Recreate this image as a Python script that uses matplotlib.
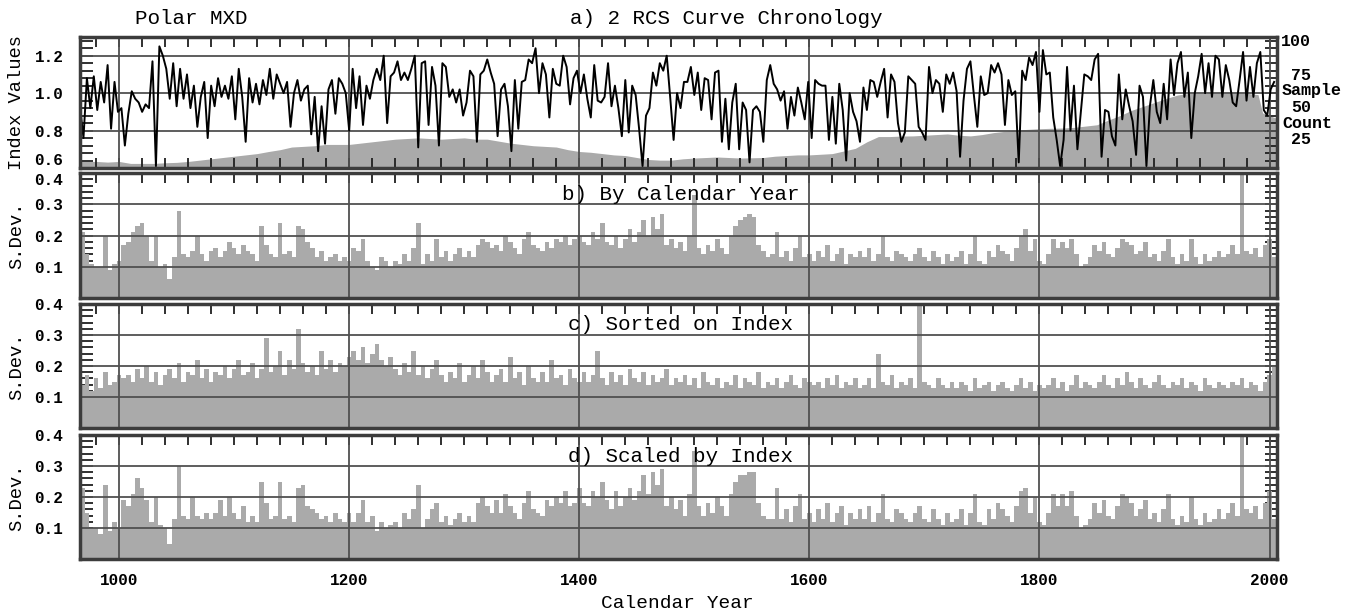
import numpy as np
import matplotlib.pyplot as plt
from matplotlib.ticker import MultipleLocator

plt.rcParams['font.family'] = ['Liberation Mono', 'DejaVu Sans Mono']

# RCS chronology, one value every 3 years starting 966
chron_start, chron_step = 966, 3
chron = [
    0.93, 0.76, 1.08, 0.92, 1.09, 0.91, 1.06, 0.95, 1.15, 0.81,
    1.06, 0.90, 0.92, 0.72, 0.89, 1.01, 0.97, 0.95, 0.90, 0.94,
    0.92, 1.17, 0.61, 1.25, 1.20, 1.13, 0.97, 1.16, 0.93, 1.13,
    0.97, 1.10, 0.92, 1.04, 0.82, 0.98, 1.06, 0.76, 1.04, 0.93,
    1.08, 0.98, 1.04, 0.97, 1.09, 0.86, 1.13, 0.98, 0.74, 1.08,
    0.95, 1.05, 0.94, 1.07, 0.99, 1.13, 0.97, 1.10, 1.05, 1.00,
    1.06, 0.82, 1.00, 1.07, 0.96, 1.02, 1.04, 0.78, 0.98, 0.69,
    0.93, 0.73, 1.02, 1.07, 0.89, 1.08, 1.05, 1.00, 0.80, 1.13,
    0.92, 1.09, 0.83, 1.04, 0.97, 1.07, 1.13, 1.07, 1.20, 0.84,
    1.09, 1.11, 1.17, 1.07, 1.11, 1.07, 1.13, 1.20, 0.71, 1.16,
    1.17, 0.83, 1.14, 1.04, 0.72, 1.16, 1.14, 0.98, 1.02, 0.95,
    1.02, 0.88, 0.95, 1.12, 1.09, 0.74, 1.10, 1.12, 1.18, 1.11,
    1.05, 0.77, 1.02, 1.05, 0.93, 0.69, 1.07, 0.81, 1.06, 1.07,
    1.18, 1.16, 1.24, 1.00, 1.16, 1.10, 0.87, 1.13, 1.05, 1.04,
    1.20, 1.14, 0.94, 1.08, 1.12, 1.00, 1.10, 0.97, 0.87, 1.15,
    0.96, 0.95, 0.98, 1.16, 0.93, 1.04, 0.92, 0.77, 1.07, 0.79,
    1.04, 0.99, 0.81, 0.61, 0.88, 0.92, 1.11, 1.04, 1.16, 1.12,
    1.20, 0.98, 0.75, 1.00, 0.92, 1.06, 1.06, 1.14, 0.99, 1.11,
    0.91, 1.08, 1.07, 0.86, 1.11, 1.12, 0.74, 0.97, 0.70, 0.95,
    1.05, 0.70, 0.95, 0.91, 0.63, 0.91, 0.93, 0.90, 0.74, 1.07,
    1.15, 1.05, 1.02, 0.96, 1.01, 0.81, 0.98, 0.88, 1.03, 0.95,
    0.86, 1.06, 0.76, 1.07, 1.05, 1.04, 1.04, 0.75, 0.98, 0.73,
    1.05, 0.91, 0.64, 1.00, 0.90, 0.85, 0.74, 1.03, 0.91, 1.07,
    1.06, 0.98, 1.06, 1.13, 0.87, 1.10, 1.06, 0.84, 0.74, 0.79,
    1.09, 1.07, 1.05, 0.82, 0.79, 0.75, 1.14, 1.00, 1.07, 1.05,
    0.90, 1.10, 1.05, 1.11, 1.01, 0.66, 0.96, 1.13, 1.17, 0.99,
    0.82, 1.09, 0.99, 1.00, 1.15, 1.11, 1.16, 1.10, 0.83, 1.07,
    0.99, 1.01, 0.63, 1.12, 1.07, 1.19, 1.15, 1.22, 0.90, 1.23,
    1.10, 1.11, 0.87, 0.75, 0.61, 0.75, 1.14, 0.80, 1.04, 0.70,
    0.90, 1.10, 1.09, 1.07, 1.18, 1.21, 0.66, 0.91, 0.90, 0.77,
    0.72, 1.10, 0.86, 1.02, 0.93, 0.85, 0.67, 1.04, 0.98, 0.61,
    0.93, 1.07, 0.90, 0.84, 1.05, 0.86, 1.18, 0.99, 1.16, 1.22,
    0.98, 1.11, 0.76, 1.00, 1.09, 1.21, 1.00, 1.16, 0.98, 1.20,
    1.18, 0.98, 1.15, 1.07, 0.95, 0.93, 1.07, 1.22, 0.96, 1.14,
    0.98, 1.16, 1.22, 0.91, 0.88, 1.02, 1.06,
]

# sample count (number of series)
count_years = [966, 980, 990, 1000, 1010, 1020, 1030, 1040, 1050, 1060,
               1070, 1080, 1090, 1100, 1110, 1120, 1130, 1140, 1150, 1160,
               1170, 1180, 1190, 1200, 1210, 1220, 1230, 1240, 1250, 1260,
               1270, 1280, 1290, 1300, 1310, 1320, 1330, 1340, 1350, 1360,
               1370, 1380, 1390, 1400, 1410, 1420, 1430, 1440, 1450, 1460,
               1470, 1480, 1490, 1500, 1510, 1520, 1530, 1540, 1550, 1560,
               1570, 1580, 1590, 1600, 1610, 1620, 1630, 1640, 1650, 1660,
               1670, 1680, 1690, 1700, 1710, 1720, 1730, 1740, 1750, 1760,
               1770, 1780, 1790, 1800, 1810, 1820, 1830, 1840, 1850, 1860,
               1870, 1880, 1890, 1900, 1910, 1920, 1930, 1940, 1950, 1960,
               1970, 1980, 1990, 1994, 2000, 2006]
count = [5, 5, 4.5, 5, 3.5, 3.5, 3.5, 4, 4.3, 5,
         6, 7, 8, 9, 10, 11, 12.6, 14, 16, 16.5,
         17, 18, 18, 18, 19, 20, 21, 22, 22.5, 23,
         22.5, 22, 22.5, 23, 22, 22, 20.5, 19, 18, 17,
         16.5, 16, 14, 12.6, 12, 11, 10, 9.5, 8, 6.5,
         6, 6, 7, 7.6, 8, 8.4, 8, 7.6, 7.8, 8,
         9, 9.5, 10, 10, 10.5, 11, 13, 15, 20, 24,
         24, 24.4, 24.5, 25, 25.5, 26, 25, 24.5, 25.5, 27,
         28, 29, 29.5, 30, 30.3, 30.5, 31, 32, 33, 36.6,
         40, 44, 47, 50, 53, 55.7, 57, 57, 57, 57,
         57, 57, 56, 42, 40, 38]

# standard deviations, one bar per 4 years starting 966
sd_start, sd_step = 966, 4
sd_year = [
    0.21, 0.14, 0.11, 0.10, 0.10, 0.20, 0.09, 0.11, 0.12, 0.17,
    0.18, 0.21, 0.23, 0.24, 0.20, 0.12, 0.20, 0.10, 0.11, 0.06,
    0.13, 0.28, 0.14, 0.13, 0.15, 0.20, 0.14, 0.12, 0.15, 0.16,
    0.13, 0.15, 0.18, 0.16, 0.14, 0.17, 0.15, 0.14, 0.12, 0.23,
    0.17, 0.14, 0.13, 0.24, 0.14, 0.15, 0.13, 0.23, 0.22, 0.18,
    0.16, 0.13, 0.15, 0.12, 0.13, 0.14, 0.12, 0.13, 0.12, 0.16,
    0.15, 0.19, 0.12, 0.10, 0.09, 0.13, 0.12, 0.10, 0.12, 0.11,
    0.14, 0.12, 0.16, 0.24, 0.11, 0.14, 0.12, 0.19, 0.13, 0.15,
    0.12, 0.14, 0.16, 0.13, 0.15, 0.13, 0.17, 0.19, 0.18, 0.16,
    0.17, 0.15, 0.20, 0.18, 0.16, 0.14, 0.19, 0.21, 0.17, 0.16,
    0.15, 0.18, 0.16, 0.19, 0.18, 0.20, 0.17, 0.19, 0.20, 0.18,
    0.17, 0.21, 0.19, 0.24, 0.18, 0.17, 0.20, 0.16, 0.19, 0.22,
    0.18, 0.21, 0.25, 0.20, 0.26, 0.22, 0.27, 0.17, 0.19, 0.16,
    0.18, 0.15, 0.20, 0.33, 0.16, 0.14, 0.17, 0.15, 0.19, 0.16,
    0.14, 0.20, 0.23, 0.25, 0.26, 0.27, 0.26, 0.17, 0.15, 0.13,
    0.14, 0.21, 0.13, 0.15, 0.12, 0.16, 0.20, 0.13, 0.14, 0.12,
    0.15, 0.13, 0.17, 0.12, 0.14, 0.16, 0.11, 0.14, 0.13, 0.15,
    0.13, 0.16, 0.12, 0.14, 0.20, 0.13, 0.12, 0.15, 0.14, 0.13,
    0.12, 0.14, 0.16, 0.13, 0.12, 0.15, 0.13, 0.11, 0.14, 0.12,
    0.13, 0.15, 0.11, 0.14, 0.20, 0.12, 0.11, 0.15, 0.13, 0.17,
    0.15, 0.14, 0.12, 0.16, 0.20, 0.22, 0.15, 0.19, 0.12, 0.11,
    0.14, 0.19, 0.16, 0.18, 0.16, 0.19, 0.14, 0.10, 0.11, 0.13,
    0.17, 0.15, 0.18, 0.14, 0.13, 0.16, 0.19, 0.18, 0.17, 0.14,
    0.15, 0.18, 0.13, 0.14, 0.12, 0.15, 0.19, 0.13, 0.11, 0.14,
    0.12, 0.19, 0.13, 0.11, 0.14, 0.12, 0.13, 0.15, 0.13, 0.14,
    0.17, 0.14, 0.40, 0.15, 0.14, 0.16, 0.13, 0.17, 0.19, 0.13,
]
sd_sorted = [
    0.14, 0.17, 0.12, 0.16, 0.13, 0.18, 0.14, 0.15, 0.17, 0.16,
    0.17, 0.15, 0.19, 0.16, 0.20, 0.15, 0.18, 0.14, 0.17, 0.19,
    0.16, 0.21, 0.15, 0.18, 0.17, 0.22, 0.16, 0.19, 0.15, 0.18,
    0.17, 0.20, 0.16, 0.19, 0.22, 0.17, 0.18, 0.21, 0.16, 0.19,
    0.29, 0.18, 0.20, 0.25, 0.17, 0.22, 0.19, 0.32, 0.21, 0.18,
    0.20, 0.17, 0.25, 0.19, 0.22, 0.18, 0.21, 0.20, 0.23, 0.25,
    0.22, 0.26, 0.21, 0.24, 0.27, 0.22, 0.20, 0.23, 0.19, 0.17,
    0.21, 0.18, 0.25, 0.17, 0.20, 0.16, 0.19, 0.22, 0.17, 0.15,
    0.18, 0.16, 0.21, 0.15, 0.17, 0.20, 0.16, 0.22, 0.18, 0.15,
    0.17, 0.19, 0.15, 0.23, 0.16, 0.18, 0.14, 0.20, 0.16, 0.15,
    0.18, 0.15, 0.22, 0.16, 0.17, 0.14, 0.19, 0.16, 0.15, 0.18,
    0.15, 0.17, 0.25, 0.16, 0.14, 0.18, 0.15, 0.17, 0.14, 0.19,
    0.16, 0.15, 0.18, 0.14, 0.17, 0.15, 0.16, 0.19, 0.14, 0.16,
    0.15, 0.17, 0.14, 0.16, 0.13, 0.18, 0.15, 0.14, 0.16, 0.13,
    0.15, 0.14, 0.17, 0.13, 0.16, 0.15, 0.14, 0.18, 0.13, 0.15,
    0.14, 0.16, 0.13, 0.15, 0.17, 0.14, 0.13, 0.16, 0.15, 0.14,
    0.15, 0.13, 0.16, 0.14, 0.17, 0.13, 0.15, 0.14, 0.16, 0.13,
    0.14, 0.16, 0.13, 0.24, 0.15, 0.14, 0.17, 0.13, 0.15, 0.14,
    0.16, 0.13, 0.40, 0.15, 0.14, 0.13, 0.16, 0.14, 0.13, 0.15,
    0.13, 0.15, 0.14, 0.12, 0.16, 0.13, 0.14, 0.15, 0.12, 0.14,
    0.15, 0.13, 0.12, 0.14, 0.16, 0.13, 0.15, 0.12, 0.14, 0.13,
    0.14, 0.16, 0.13, 0.15, 0.12, 0.14, 0.17, 0.13, 0.15, 0.14,
    0.13, 0.15, 0.17, 0.14, 0.13, 0.16, 0.14, 0.18, 0.15, 0.13,
    0.16, 0.14, 0.13, 0.15, 0.17, 0.14, 0.13, 0.15, 0.14, 0.16,
    0.13, 0.15, 0.14, 0.12, 0.16, 0.14, 0.13, 0.15, 0.14, 0.13,
    0.15, 0.14, 0.16, 0.13, 0.15, 0.14, 0.12, 0.15, 0.17, 0.20,
]
sd_scaled = [
    0.23, 0.15, 0.10, 0.10, 0.08, 0.24, 0.09, 0.12, 0.10, 0.19,
    0.17, 0.21, 0.26, 0.23, 0.19, 0.12, 0.20, 0.11, 0.10, 0.05,
    0.13, 0.30, 0.14, 0.13, 0.20, 0.14, 0.13, 0.15, 0.13, 0.15,
    0.19, 0.14, 0.20, 0.15, 0.13, 0.17, 0.12, 0.14, 0.12, 0.25,
    0.18, 0.13, 0.14, 0.25, 0.13, 0.14, 0.12, 0.23, 0.24, 0.17,
    0.16, 0.15, 0.13, 0.14, 0.12, 0.15, 0.13, 0.12, 0.15, 0.12,
    0.15, 0.19, 0.12, 0.14, 0.09, 0.12, 0.10, 0.11, 0.12, 0.10,
    0.15, 0.13, 0.16, 0.24, 0.10, 0.13, 0.16, 0.18, 0.12, 0.14,
    0.11, 0.13, 0.15, 0.12, 0.14, 0.12, 0.18, 0.20, 0.17, 0.15,
    0.19, 0.15, 0.21, 0.17, 0.15, 0.13, 0.18, 0.22, 0.16, 0.15,
    0.14, 0.19, 0.17, 0.20, 0.18, 0.22, 0.17, 0.18, 0.23, 0.18,
    0.17, 0.22, 0.20, 0.25, 0.19, 0.16, 0.22, 0.17, 0.20, 0.23,
    0.19, 0.22, 0.27, 0.21, 0.28, 0.24, 0.29, 0.17, 0.20, 0.16,
    0.19, 0.14, 0.21, 0.35, 0.17, 0.14, 0.18, 0.15, 0.20, 0.17,
    0.14, 0.21, 0.25, 0.27, 0.27, 0.28, 0.28, 0.18, 0.14, 0.13,
    0.13, 0.23, 0.13, 0.16, 0.12, 0.17, 0.21, 0.13, 0.15, 0.12,
    0.16, 0.13, 0.18, 0.12, 0.15, 0.17, 0.11, 0.15, 0.13, 0.16,
    0.13, 0.17, 0.12, 0.15, 0.21, 0.13, 0.12, 0.16, 0.15, 0.13,
    0.12, 0.15, 0.17, 0.13, 0.12, 0.16, 0.13, 0.11, 0.15, 0.12,
    0.13, 0.16, 0.11, 0.15, 0.21, 0.12, 0.11, 0.16, 0.13, 0.18,
    0.16, 0.14, 0.12, 0.17, 0.22, 0.23, 0.15, 0.20, 0.12, 0.11,
    0.15, 0.21, 0.17, 0.21, 0.17, 0.22, 0.14, 0.10, 0.11, 0.13,
    0.18, 0.15, 0.19, 0.14, 0.13, 0.17, 0.21, 0.20, 0.18, 0.14,
    0.16, 0.19, 0.13, 0.15, 0.12, 0.16, 0.21, 0.13, 0.11, 0.14,
    0.12, 0.20, 0.13, 0.11, 0.15, 0.12, 0.13, 0.16, 0.13, 0.15,
    0.18, 0.14, 0.40, 0.16, 0.15, 0.17, 0.13, 0.18, 0.22, 0.13,
]

panel_titles = ['b) By Calendar Year', 'c) Sorted on Index', 'd) Scaled by Index']

W, H = 1358, 613
XMIN, XMAX = 966, 2006.5
GRAY = '#aaaaaa'
GRID = '#505050'
SPINE = '#3c3c3c'


def px(x, y):
    return x / W, 1 - y / H


def box(top, bottom):
    return [80 / W, 1 - bottom / H, 1197 / W, (bottom - top) / H]


def style(ax, yticks, yminor, bottom_labels=False):
    ax.set_xlim(XMIN, XMAX)
    xt = np.arange(980, 2001, 20)
    ax.set_xticks(xt)
    ax.set_xticklabels([str(t) if t % 200 == 0 else '' for t in xt])
    ax.set_yticks(yticks)
    ax.set_yticklabels(['%.1f' % v for v in yticks])
    ax.yaxis.set_minor_locator(MultipleLocator(yminor))
    ax.tick_params(axis='x', which='both', direction='in', top=True, bottom=True,
                   length=7, width=1.3, color='#202020', labelbottom=bottom_labels,
                   pad=10, labelsize=11.5)
    ax.tick_params(axis='y', which='both', direction='in', left=True, right=True,
                   length=9, width=1.3, color='#202020', pad=12, labelsize=11.5)
    for lab in ax.get_xticklabels() + ax.get_yticklabels():
        lab.set_fontweight('bold')
    for sp in ax.spines.values():
        sp.set_linewidth(2.5)
        sp.set_color(SPINE)
        sp.set_zorder(5)
    for x in range(1000, 2001, 200):
        ax.axvline(x, color=GRID, lw=1.3, zorder=3)


fig = plt.figure(figsize=(W / 100, H / 100), dpi=100)

# a) chronology with sample count behind
ax_a = fig.add_axes(box(37, 168))
ax_n = ax_a.twinx()
ax_n.fill_between(count_years, 0, count, color=GRAY, lw=0)
ax_n.set_ylim(0, 100)
ax_n.set_yticks([])
for sp in ax_n.spines.values():
    sp.set_visible(False)
ax_a.set_zorder(ax_n.get_zorder() + 1)
ax_a.patch.set_visible(False)

chron_years = np.arange(len(chron)) * chron_step + chron_start
ax_a.plot(chron_years, chron, color='black', lw=1.4, zorder=4)
ax_a.set_ylim(0.6, 1.3)
style(ax_a, [0.6, 0.8, 1.0, 1.2], 0.04)
for y in (0.8, 1.0, 1.2):
    ax_a.axhline(y, color=GRID, lw=1.3, zorder=3)
ax_a.get_yticklabels()[0].set_verticalalignment('bottom')

# right-hand sample count labels
for label, y in [('100', 42), ('75', 75), ('50', 107), ('25', 140)]:
    fig.text(*px(1311, y), label, ha='right', va='center', fontsize=12, fontweight='bold')
for label, y in [('Sample', 91), ('Count', 123)]:
    fig.text(*px(1282, y), label, ha='left', va='center', fontsize=12, fontweight='bold')

# b), c), d) standard deviation bars
sd_years = np.arange(len(sd_year)) * sd_step + sd_start
panels = [(173, 298, sd_year), (304, 428, sd_sorted), (435, 559, sd_scaled)]
for i, (top, bottom, vals) in enumerate(panels):
    ax = fig.add_axes(box(top, bottom))
    ax.set_axisbelow(True)
    ax.bar(sd_years, vals, width=sd_step, align='edge', color=GRAY, lw=0, zorder=2)
    ax.set_ylim(0, 0.4)
    style(ax, [0.1, 0.2, 0.3, 0.4], 0.02, bottom_labels=(i == 2))
    for y in (0.1, 0.2, 0.3):
        ax.axhline(y, color=GRID, lw=1.3, zorder=3)
    if i == 0:
        ax.get_yticklabels()[-1].set_verticalalignment('top')
    fig.text(*px(681, (195, 325, 457)[i]), panel_titles[i], ha='center', va='center',
             fontsize=15)
    fig.text(*px(17, (top + bottom) / 2), 'S.Dev.', rotation=90, ha='center',
             va='center', fontsize=13.5)

fig.text(*px(191, 18), 'Polar MXD', ha='center', va='center', fontsize=15)
fig.text(*px(726, 18), 'a) 2 RCS Curve Chronology', ha='center', va='center', fontsize=15)
fig.text(*px(17, 102), 'Index Values', rotation=90, ha='center', va='center', fontsize=13.5)
fig.text(*px(677, 603), 'Calendar Year', ha='center', va='center', fontsize=14)

fig.savefig('out.png', dpi=100)
